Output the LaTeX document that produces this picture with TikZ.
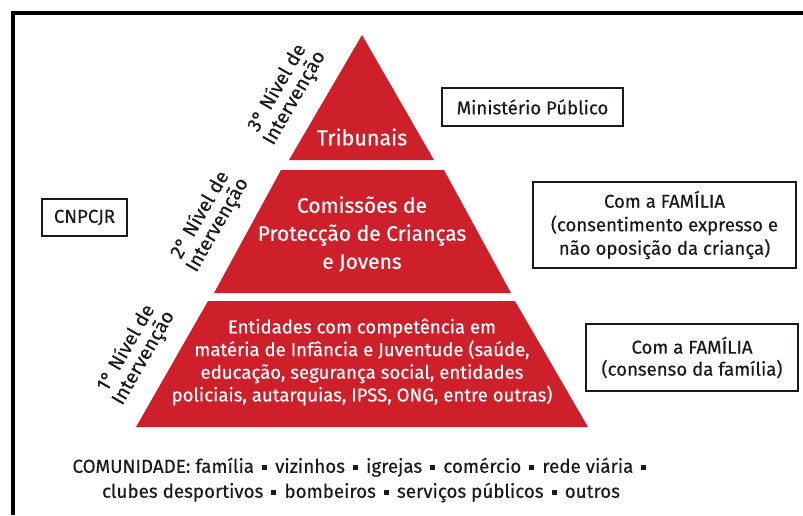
\documentclass[tikz,border=0pt]{standalone}
\usepackage{fontspec}
\setmainfont{Fira Sans}[FakeBold=0.35]
\definecolor{pyr}{RGB}{206,32,43}
\definecolor{ink}{RGB}{25,25,35}
\newcommand{\sqb}{\,\raisebox{0.16em}{\rule{0.26em}{0.26em}}\,}
\begin{document}
\begin{tikzpicture}[x=1pt,y=-1pt,
  tier/.style={fill=pyr,draw=none},
  tiertext/.style={text=white,align=center,inner sep=0},
  infobox/.style={draw=ink,line width=1.5pt,inner sep=0,align=center,text=ink},
  lvl/.style={rotate=60,align=center,inner sep=0,text=ink,font=\fontsize{19.5}{20}\selectfont},
  frame/.style={line width=4pt,black}]
\useasboundingbox (0,0) rectangle (803,515);
\fill[white] (0,0) rectangle (803,515);
% frame
\coordinate (fTL) at (13,12.5);
\coordinate (fTR) at (803,12.5);
\coordinate (fBL) at (13,515);
\draw[frame] (fTR) -- (fTL) -- (fBL);
% pyramid
\fill[tier] (362,35) -- (434,160) -- (289,160) -- cycle;
\fill[tier] (281,170) -- (444,170) -- (511,293) -- (214,293) -- cycle;
\fill[tier] (208,301) -- (515,301) -- (588,427) -- (136,427) -- cycle;
\node[tiertext,font=\fontsize{21.5}{28}\selectfont] (t3) at (362,137) {Tribunais};
\node[tiertext,font=\fontsize{21}{28}\selectfont] (t2) at (362,234) {Comissões de\\Protecção de Crianças\\e Jovens};
\node[tiertext,font=\fontsize{18.6}{22.7}\selectfont] (t1) at (362,362) {Entidades com competência em\\matéria de Infância e Juventude (saúde,\\educação, segurança social, entidades\\policiais, autarquias, IPSS, ONG, entre outras)};
% level labels
\node[lvl] (l3) at (286,93) {3° Nível de\\Intervenção};
\node[lvl] (l2) at (209,220) {2° Nível de\\Intervenção};
\node[lvl] (l1) at (135,353) {1° Nível de\\Intervenção};
% boxes
\node[infobox,minimum width=181,minimum height=38,font=\fontsize{18.6}{23}\selectfont] (mp) at (532.5,107) {Ministério Público};
\node[infobox,minimum width=85,minimum height=37,font=\fontsize{18.6}{23}\selectfont] (cn) at (84.5,217.5) {CNPCJR};
\node[infobox,minimum width=263,minimum height=86,font=\fontsize{18.6}{23.5}\selectfont] (f2) at (664.5,225) {Com a FAMÍLIA\\(consentimento expresso e\\não oposição da criança)};
\node[infobox,minimum width=212,minimum height=67,font=\fontsize{18.6}{22}\selectfont] (f1) at (692,357.5) {Com a FAMÍLIA\\(consenso da família)};
% community
\node[align=center,inner sep=0,text=ink,font=\fontsize{18.8}{25}\selectfont] (com) at (361,480) {COMUNIDADE: família \sqb{} vizinhos \sqb{} igrejas \sqb{} comércio \sqb{} rede viária \sqb\\clubes desportivos \sqb{} bombeiros \sqb{} serviços públicos \sqb{} outros};
\end{tikzpicture}
\end{document}
